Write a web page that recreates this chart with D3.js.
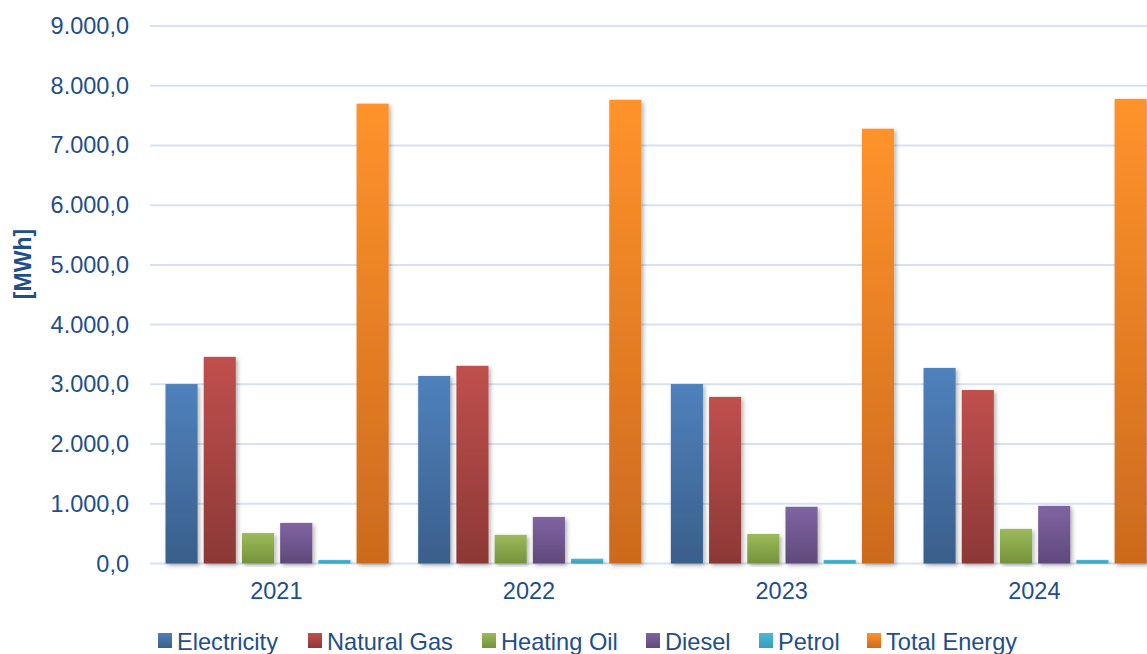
<!DOCTYPE html>
<html lang="en">
  <head>
    <meta charset="UTF-8" />
    <title>energy</title>
    <script src="https://cdn.jsdelivr.net/npm/d3@7"></script>
    <style>
      body { margin: 0; background: #fff; }
      text { font-family: "Liberation Sans", Arial, sans-serif; }
    </style>
  </head>
  <body>
    <svg width="1147" height="654"></svg>
  </body>

  <script>
    var years = ['2021', '2022', '2023', '2024'];
    var seriesNames = ['Electricity', 'Natural Gas', 'Heating Oil', 'Diesel', 'Petrol', 'Total Energy'];
    var electricity = [3005, 3140, 3005, 3275];
    var naturalGas = [3460, 3310, 2790, 2905];
    var heatingOil = [510, 480, 495, 580];
    var diesel = [680, 780, 950, 965];
    var petrol = [60, 80, 60, 60];
    var totalEnergy = [7700, 7765, 7280, 7780];
    var yTicks = [0, 1000, 2000, 3000, 4000, 5000, 6000, 7000, 8000, 9000];

    var allSeries = [electricity, naturalGas, heatingOil, diesel, petrol, totalEnergy];
    // colour pairs: top / bottom of gradient
    var colors = [
      ['#4f81bd', '#3a5f8b'],
      ['#c0504d', '#8c3836'],
      ['#9bbb59', '#76923c'],
      ['#8064a2', '#5f497a'],
      ['#4bb8d8', '#3a9cba'],
      ['#ff932b', '#cc6a1e']
    ];
    var textColor = '#1f4e89';

    var svg = d3.select('svg');
    var defs = svg.append('defs');

    colors.forEach(function (c, i) {
      var lg = defs.append('linearGradient').attr('id', 'grad' + i)
        .attr('x1', 0).attr('y1', 0).attr('x2', 0).attr('y2', 1);
      lg.append('stop').attr('offset', '0%').attr('stop-color', c[0]);
      lg.append('stop').attr('offset', '100%').attr('stop-color', c[1]);
    });

    var f = defs.append('filter').attr('id', 'shadow')
      .attr('x', '-20%').attr('y', '-5%').attr('width', '150%').attr('height', '115%');
    f.append('feDropShadow').attr('dx', 2).attr('dy', 2).attr('stdDeviation', 2)
      .attr('flood-color', '#000').attr('flood-opacity', 0.3);

    var x0 = d3.scaleBand().domain(years).range([150, 1160.7]);
    var x1 = d3.scaleBand().domain(d3.range(seriesNames.length))
      .range([15.5, x0.bandwidth() - 14]).paddingInner(0.16);
    var y = d3.scaleLinear().domain([0, 9000]).range([563.5, 26]);

    var fmt = d3.formatLocale({ decimal: ',', thousands: '.', grouping: [3], currency: ['', '€'] }).format(',.1f');

    // gridlines
    svg.append('g').selectAll('line').data(yTicks).enter().append('line')
      .attr('x1', 150).attr('x2', 1147)
      .attr('y1', function (d) { return y(d); })
      .attr('y2', function (d) { return y(d); })
      .attr('stroke', '#d6e2f3').attr('stroke-width', 2);

    // y axis labels
    var yAxis = d3.axisLeft(y).tickValues(yTicks).tickFormat(fmt).tickSize(0).tickPadding(0);
    var ga = svg.append('g').attr('transform', 'translate(129,0)').call(yAxis);
    ga.select('.domain').remove();
    ga.selectAll('text').attr('fill', textColor).attr('font-size', 23.5)
      .attr('font-family', '"Liberation Sans", Arial, sans-serif');

    // x axis labels
    var xAxis = d3.axisBottom(x0).tickSize(0).tickPadding(0);
    var gx = svg.append('g').attr('transform', 'translate(0,582)').call(xAxis);
    gx.select('.domain').remove();
    gx.selectAll('text').attr('fill', textColor).attr('font-size', 23.5)
      .attr('font-family', '"Liberation Sans", Arial, sans-serif');

    // axis title
    svg.append('text')
      .attr('transform', 'translate(31,264) rotate(-90)')
      .attr('text-anchor', 'middle')
      .attr('font-size', 23).attr('font-weight', 'bold')
      .attr('fill', textColor)
      .text('[MWh]');

    // bars
    var groups = svg.append('g').selectAll('g').data(years).enter().append('g')
      .attr('transform', function (d) { return 'translate(' + x0(d) + ',0)'; });

    groups.selectAll('rect')
      .data(function (d, yi) {
        return allSeries.map(function (s, si) { return { si: si, v: s[yi] }; });
      })
      .enter().append('rect')
      .attr('x', function (d) { return x1(d.si); })
      .attr('width', x1.bandwidth())
      .attr('y', function (d) { return y(d.v); })
      .attr('height', function (d) { return y(0) - y(d.v); })
      .attr('fill', function (d) { return 'url(#grad' + d.si + ')'; })
      .attr('filter', 'url(#shadow)');

    // legend
    var legendX = [158, 308, 482, 646, 759, 867];
    var lg = svg.append('g').selectAll('g').data(seriesNames).enter().append('g')
      .attr('transform', function (d, i) { return 'translate(' + legendX[i] + ',633)'; });
    lg.append('rect').attr('width', 14).attr('height', 15)
      .attr('fill', function (d, i) { return 'url(#grad' + i + ')'; });
    lg.append('text').attr('x', 19).attr('y', 17)
      .attr('font-size', 23.6).attr('fill', textColor)
      .text(function (d) { return d; });
  </script>
</html>
